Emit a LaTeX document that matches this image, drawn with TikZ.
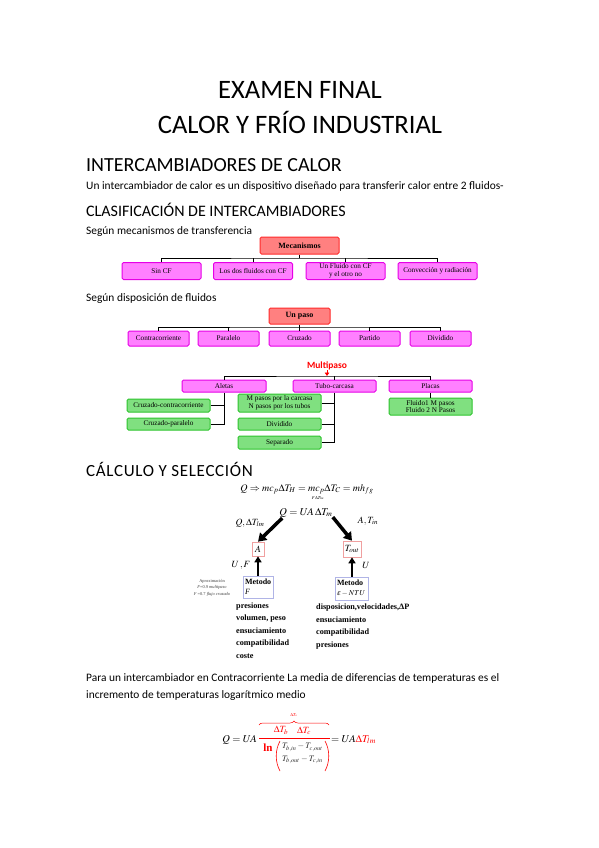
\documentclass[tikz,border=0pt]{standalone}
\usepackage{mathptmx}
\usepackage[no-math]{fontspec}
\setmainfont{Carlito}
\newfontfamily\tms{Liberation Serif}
\usetikzlibrary{arrows.meta,decorations.pathreplacing,calc}
\definecolor{redfill}{HTML}{FF8080}
\definecolor{redline}{HTML}{FF2A2A}
\definecolor{pinkfill}{HTML}{FF80FF}
\definecolor{pinkline}{HTML}{E600E6}
\definecolor{greenfill}{HTML}{80E080}
\definecolor{greenline}{HTML}{2EC42E}
\definecolor{bluebox}{HTML}{B0B4E6}
\definecolor{pinkbox}{HTML}{F0A0A0}
\begin{document}
\begin{tikzpicture}[x=1pt,y=-1pt,
  title/.style={anchor=base,inner sep=0pt,font=\fontsize{26.6}{30}\selectfont},
  headA/.style={anchor=base west,inner sep=0pt,font=\fontsize{20}{24}\selectfont},
  headB/.style={anchor=base west,inner sep=0pt,font=\fontsize{16}{19}\selectfont},
  bodytext/.style={anchor=base west,inner sep=0pt,font=\fontsize{11.4}{13}\selectfont},
  box/.style={rounded corners=1.5pt,line width=1pt,inner sep=0pt,align=center,
    font=\tms\fontsize{7.2}{8}\selectfont},
  rbox/.style={box,fill=redfill,draw=redline,font=\tms\bfseries\fontsize{8}{9}\selectfont},
  pbox/.style={box,fill=pinkfill,draw=pinkline},
  gbox/.style={box,fill=greenfill,draw=greenline},
  conn/.style={line width=1pt,black},
  bigarrow/.style={line width=3.5pt,-{Triangle[length=8pt,width=10pt]}},
  uparrow/.style={line width=2.5pt,-{Triangle[length=6pt,width=7pt]}},
  mth/.style={inner sep=0pt,font=\fontsize{10}{12}\selectfont},
  metodo/.style={draw=bluebox,line width=0.8pt,inner sep=1.5pt,align=left,
    font=\tms\fontsize{8}{10}\selectfont},
  lista/.style={anchor=base west,inner sep=0pt,align=left,
    font=\tms\bfseries\fontsize{8.2}{12.6}\selectfont}
]
\useasboundingbox[fill=white] (0,0) rectangle (599,848);

% Titles
\node[title] (t1) at (300,99) {EXAMEN FINAL};
\node[title] (t2) at (300,134) {CALOR Y FRÍO INDUSTRIAL};
\node[headA] (h1) at (86,171) {INTERCAMBIADORES DE CALOR};
\node[bodytext] (p1) at (86,189) {Un intercambiador de calor es un dispositivo diseñado para transferir calor entre 2 fluidos-};
\node[headB] (h2) at (86,216) {CLASIFICACIÓN DE INTERCAMBIADORES};
\node[bodytext] (s1) at (86,234) {Según mecanismos de transferencia};

% Mecanismos
\node[rbox,minimum width=79pt,minimum height=17pt] (mec) at (299.5,245.5) {Mecanismos};
\node[pbox,minimum width=79pt,minimum height=17pt] (sin) at (161.5,271) {Sin CF};
\node[pbox,minimum width=79pt,minimum height=17pt] (dos) at (253,271) {Los dos fluidos con CF};
\node[pbox,minimum width=79pt,minimum height=17pt,font=\tms\fontsize{7.2}{7.6}\selectfont] (unf) at (345.5,271) {Un Fluido con CF\\y el otro no};
\node[pbox,minimum width=79pt,minimum height=17pt] (con) at (437.5,271) {Convección y radiación};
\coordinate (mb) at (299.5,258);
\draw[conn] (mec) -- (mb);
\draw[conn] (sin.north) |- (mb) -| (con.north);
\draw[conn] (dos.north) -- (dos.north |- mb);
\draw[conn] (unf.north) -- (unf.north |- mb);

\node[bodytext] (s2) at (86,301) {Según disposición de fluidos};

% Un paso
\node[rbox,minimum width=61pt,minimum height=16pt] (up) at (299.5,316) {Un paso};
\node[pbox,minimum width=61pt,minimum height=15pt] (ctr) at (158.5,338.5) {Contracorriente};
\node[pbox,minimum width=61pt,minimum height=15pt] (par) at (228.5,338.5) {Paralelo};
\node[pbox,minimum width=61pt,minimum height=15pt] (cru) at (299.5,338.5) {Cruzado};
\node[pbox,minimum width=61pt,minimum height=15pt] (prt) at (369.5,338.5) {Partido};
\node[pbox,minimum width=61pt,minimum height=15pt] (dvd) at (440.5,338.5) {Dividido};
\coordinate (ub) at (299.5,327);
\draw[conn] (up) -- (ub);
\draw[conn] (ctr.north) |- (ub) -| (dvd.north);
\draw[conn] (par.north) -- (par.north |- ub);
\draw[conn] (cru.north) -- (cru.north |- ub);
\draw[conn] (prt.north) -- (prt.north |- ub);

% Multipaso
\node[inner sep=0pt,text=red,font=\bfseries\fontsize{9.5}{11}\selectfont] (mp) at (327,366) {Multipaso};
\coordinate (mpb) at (327,376);
\node[pbox,minimum width=84pt,minimum height=12pt] (ale) at (224,386) {Aletas};
\node[pbox,minimum width=83pt,minimum height=12pt] (tub) at (334.5,386) {Tubo-carcasa};
\node[pbox,minimum width=83pt,minimum height=12pt] (pla) at (430.5,386) {Placas};
\draw[conn] (ale.north) |- (mpb) -| (pla.north);
\draw[conn] (tub.north) -- (tub.north |- mpb);
\draw[red,line width=0.8pt,-{Triangle[length=3.5pt,width=4.5pt]}] (mp.south) -- (mpb);

\node[gbox,minimum width=83pt,minimum height=13pt] (cc) at (168.5,405.5) {Cruzado-contracorriente};
\node[gbox,minimum width=83pt,minimum height=12pt] (cp) at (168.5,424) {Cruzado-paralelo};
\draw[conn] (ale.south) |- (cp.east);
\draw[conn] (cc.east) -- (cc.east -| ale.south);

\node[gbox,minimum width=83pt,minimum height=18pt,font=\tms\fontsize{7.2}{7.8}\selectfont] (mps) at (279.5,403) {M pasos por la carcasa\\N pasos por los tubos};
\node[gbox,minimum width=83pt,minimum height=12pt] (dv2) at (279.5,424) {Dividido};
\node[gbox,minimum width=83pt,minimum height=13pt] (sep) at (279.5,442.5) {Separado};
\draw[conn] (tub.south) |- (sep.east);
\draw[conn] (mps.east) -- (mps.east -| tub.south);
\draw[conn] (dv2.east) -- (dv2.east -| tub.south);

\node[gbox,minimum width=83pt,minimum height=17pt,font=\tms\fontsize{7.2}{7.8}\selectfont] (flu) at (430.5,406.5) {Fluido1 M pasos\\Fluido 2 N Pasos};
\draw[conn] (pla) -- (flu);

% Calculo
\node[headB,font=\fontsize{17}{20}\selectfont\addfontfeatures{LetterSpace=4}] (h3) at (86,476) {CÁLCULO Y SELECCIÓN};
\node[mth,anchor=base] (f1) at (307,491) {$Q\Rightarrow mc_p\Delta T_H = mc_p\Delta T_C = mh_{fg}$};
\node[inner sep=0pt,font=\fontsize{4.5}{5}\selectfont] (f1s) at (318,498) {$F\Delta T_{lm}$};
\node[mth,anchor=base,font=\fontsize{10.5}{12}\selectfont] (f2) at (306,515) {$Q = UA\,\Delta T_m$};

\node[draw=pinkbox,line width=0.6pt,minimum width=12pt,minimum height=14pt,inner sep=0pt,font=\fontsize{9.5}{11}\selectfont] (abox) at (258,549) {$A$};
\node[draw=pinkbox,line width=0.6pt,minimum width=18pt,minimum height=16pt,inner sep=0pt,font=\fontsize{9.5}{11}\selectfont] (tbox) at (352,549) {$T_{out}$};

\draw[bigarrow] ($(f2.south west)+(3,1)$) -- (abox.north);
\draw[bigarrow] (f2.south east) -- (tbox.north);

\node[mth,font=\fontsize{9.5}{11}\selectfont] (lq) at (250,523) {$Q,\Delta T_{lm}$};
\node[mth,font=\fontsize{9.5}{11}\selectfont] (lat) at (368,521) {$A,T_{in}$};

\node[metodo,minimum width=30pt,minimum height=22pt,text width=26pt] (m1) at (258,587) {\textbf{Metodo}\\ \textit{F}};
\node[metodo,minimum width=33pt,minimum height=23pt,text width=30pt] (m2) at (352,588.5) {\textbf{Metodo}\\ \mbox{\fontsize{7.5}{9}\selectfont$\varepsilon - NTU$}};
\draw[uparrow] (m1.north) -- (abox.south);
\draw[uparrow] (m2.north) -- (tbox.south);
\node[mth,font=\fontsize{9.5}{11}\selectfont] (luf) at (241,565) {$U\,,F$};
\node[mth,font=\fontsize{9.5}{11}\selectfont] (lu) at (366,565) {$U$};

\node[inner sep=0pt,align=center,text=black!75,font=\tms\fontsize{4.4}{6.5}\selectfont] (apx) at (212,587.5) {Aproximación\\ \textit{F}=0.9 \textit{multipaso}\\ \textit{F} =0.7 \textit{flujo cruzado}};

\node[lista] (la) at (236,658.5) {presiones\\volumen, peso\\ensuciamiento\\compatibilidad\\coste};
\node[lista] (lb) at (316,647.3) {disposicion,velocidades,ΔP\\ensuciamiento\\compatibilidad\\presiones};

\node[bodytext] (p2) at (86,681) {Para un intercambiador en Contracorriente La media de diferencias de temperaturas es el};
\node[bodytext] (p3) at (86,698) {incremento de temperaturas logarítmico medio};

% Formula LMTD
\node[mth,anchor=base east,font=\fontsize{10.5}{12}\selectfont] (q3) at (257,742) {$Q = UA$};
\coordinate (fb1) at (259,738);
\coordinate (fb2) at (330,738);
\draw[red,line width=0.6pt] (fb1) -- (fb2);
\coordinate (br1) at (259,725);
\coordinate (br2) at (329,725);
\draw[red,line width=0.5pt,decorate,decoration={brace,amplitude=4pt}] (br1) -- (br2);
\node[mth,text=red,font=\fontsize{4.5}{5}\selectfont] (dto) at (294,715) {$\Delta T_o$};
\node[mth,text=red,font=\fontsize{9.5}{11}\selectfont] (nb) at (281,730.5) {$\Delta T_b$};
\node[mth,text=red,font=\fontsize{9.5}{11}\selectfont] (nc) at (304,730.5) {$\Delta T_c$};
\node[inner sep=0pt,text=red,font=\tms\bfseries\fontsize{11}{12}\selectfont] (ln) at (268,748) {ln};
\coordinate (lp1) at (280,741);
\coordinate (lp2) at (280,771);
\coordinate (rp1) at (325,741);
\coordinate (rp2) at (325,771);
\draw[red,line width=0.6pt] (lp1) .. controls (275,750) and (275,762) .. (lp2);
\draw[red,line width=0.6pt] (rp1) .. controls (330,750) and (330,762) .. (rp2);
\node[mth,text=black!80,font=\fontsize{8.5}{10}\selectfont] (r1) at (302.5,747.5) {$T_{b,in} - T_{c,out}$};
\node[mth,text=black!80,font=\fontsize{8.5}{10}\selectfont] (r2) at (302.5,760) {$T_{b,out} - T_{c,in}$};
\node[mth,anchor=base west,font=\fontsize{10.5}{12}\selectfont] (q4) at (331,742) {$= UA\textcolor{red}{\Delta T_{lm}}$};
\end{tikzpicture}
\end{document}
